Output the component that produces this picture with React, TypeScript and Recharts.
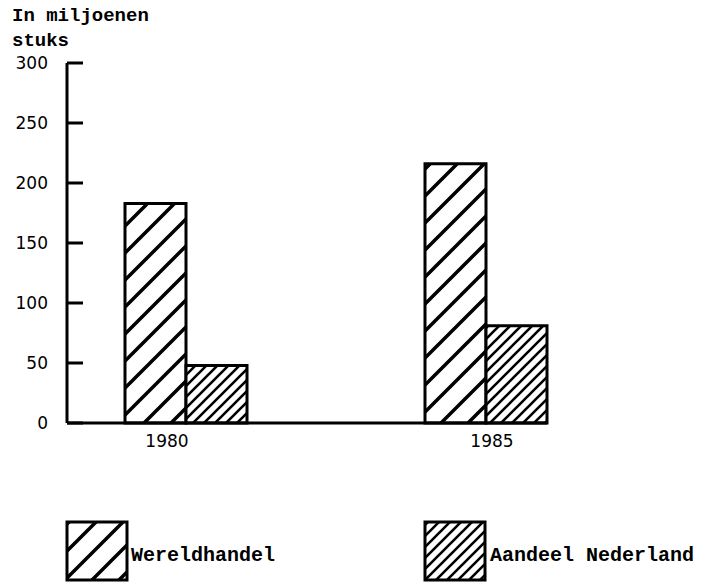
import { BarChart, Bar, XAxis, YAxis, Legend } from 'recharts'

const YEARS = ['1980', '1985']
const WERELDHANDEL = [183, 216]
const AANDEEL_NL = [48, 81]
const Y_TICKS = [0, 50, 100, 150, 200, 250, 300]

const SERIES = [
  { key: 'wereld', name: 'Wereldhandel', pattern: 'hatchWide' },
  { key: 'nl', name: 'Aandeel Nederland', pattern: 'hatchNarrow' },
]

const data = YEARS.map((year, i) => ({ year, wereld: WERELDHANDEL[i], nl: AANDEEL_NL[i] }))

const MONO = '"Liberation Mono", "DejaVu Sans Mono", monospace'
const SANS = '"DejaVu Sans", sans-serif'

// small nudges so the year labels sit where the typewriter put them
const YEAR_SHIFT: Record<string, number> = { '1980': -19, '1985': 6 }

function Hatches({ suffix = '' }: { suffix?: string }) {
  return (
    <defs>
      <pattern id={'hatchWide' + suffix} patternUnits="userSpaceOnUse" width={27} height={27}>
        <rect width={27} height={27} fill="#fff" />
        <path d="M0,27 L27,0 M-4,4 L4,-4 M23,31 L31,23" stroke="#000" strokeWidth={3.5} />
      </pattern>
      <pattern id={'hatchNarrow' + suffix} patternUnits="userSpaceOnUse" width={11} height={11}>
        <rect width={11} height={11} fill="#fff" />
        <path d="M0,11 L11,0 M-3,3 L3,-3 M8,14 L14,8" stroke="#000" strokeWidth={2.6} />
      </pattern>
    </defs>
  )
}

function YearTick(props: any) {
  const { x, y, payload } = props
  return (
    <text x={x + (YEAR_SHIFT[payload.value] ?? 0)} y={y} dy="0.71em" textAnchor="middle"
      fill="#000" fontSize={17} fontFamily={SANS}>
      {payload.value}
    </text>
  )
}

const LEGEND_POS = [{ box: 67, text: 131 }, { box: 425, text: 490 }]

function HatchLegend() {
  return (
    <svg width={707} height={76}>
      <Hatches suffix="Lg" />
      {SERIES.map((s, i) => (
        <g key={s.key}>
          <rect x={LEGEND_POS[i].box} y={12} width={60} height={58} fill={`url(#${s.pattern}Lg)`} stroke="#000" strokeWidth={3} />
          <text x={LEGEND_POS[i].text} y={51} fontSize={20} fontFamily={MONO} fontWeight="bold" fill="#000">{s.name}</text>
        </g>
      ))}
    </svg>
  )
}

export default function App() {
  return (
    <div style={{ position: 'absolute', left: 0, top: 0, width: 707, height: 586, background: '#fff' }}>
      <div style={{ position: 'absolute', left: 12, top: 4, fontFamily: MONO, fontSize: 19, fontWeight: 'bold', lineHeight: '25px', color: '#000', zIndex: 2 }}>
        In miljoenen<br />stuks
      </div>
      <BarChart width={707} height={586} data={data} barGap={0}
        margin={{ top: 63, right: 160, bottom: 133, left: 0 }}>
        <Hatches />
        <XAxis dataKey="year" padding={{ left: -31, right: -89 }} interval={0}
          axisLine={{ stroke: '#000', strokeWidth: 3 }} tickLine={false} tickSize={0} tickMargin={12}
          tick={<YearTick />} />
        <YAxis domain={[0, 300]} ticks={Y_TICKS} width={67} interval={0}
          axisLine={{ stroke: '#000', strokeWidth: 3 }} tickLine={{ stroke: '#000', strokeWidth: 3 }}
          tickSize={-16} tickMargin={35}
          tick={{ fill: '#000', fontSize: 17, fontFamily: SANS }} />
        {SERIES.map(s => (
          <Bar key={s.key} dataKey={s.key} name={s.name} fill={`url(#${s.pattern})`}
            stroke="#000" strokeWidth={3} barSize={61} isAnimationActive={false} />
        ))}
        <Legend layout="horizontal" verticalAlign="middle" content={<HatchLegend />}
          wrapperStyle={{ top: 510, left: 0, width: 707, height: 76 }} />
      </BarChart>
    </div>
  )
}
